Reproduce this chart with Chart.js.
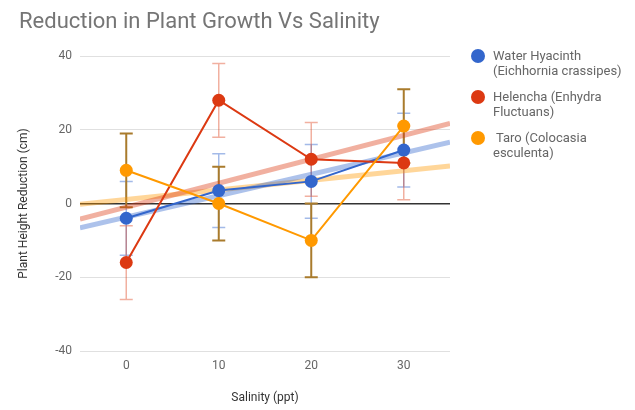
<!DOCTYPE html>
<html lang="en">
<head>
    <meta charset="UTF-8">
    <title>Reduction in Plant Growth Vs Salinity</title>
    <script src="https://cdn.jsdelivr.net/npm/chart.js"></script>
    <style>
        body { margin: 0; background: #fff; font-family: Roboto, Arial, sans-serif; }
        .wrap { position: relative; width: 635px; height: 410px; }
        .title { position: absolute; left: 19px; top: 8px; font-size: 22px; color: #757575; }
        .legend { position: absolute; left: 471px; top: 48px; }
        .item { position: relative; padding-left: 22px; font-size: 13px; line-height: 15px; color: #666; margin-bottom: 11px; white-space: pre; }
        .dot { position: absolute; left: 0; top: 1px; width: 14px; height: 14px; border-radius: 50%; }
    </style>
</head>
<body>
<div class="wrap">
    <canvas id="chart" width="635" height="410"></canvas>
    <div class="title">Reduction in Plant Growth Vs Salinity</div>
    <div class="legend" id="legend"></div>
</div>
<script>
    // valeurs
    const salinity = [0, 10, 20, 30];
    const xTicks = [0, 10, 20, 30];
    const yTicks = [-40, -20, 0, 20, 40];

    const hyacinth = [-4, 3.5, 6, 14.5];
    const helencha = [-16, 28, 12, 11];
    const taro = [9, 0, -10, 21];

    const hyacinthErr = [10, 10, 10, 10];
    const helenchaErr = [10, 10, 10, 10];
    const taroErr = [10, 10, 10, 10];

    const seriesNames = [
        ['Water Hyacinth', '(Eichhornia crassipes)'],
        ['Helencha (Enhydra', 'Fluctuans)'],
        [' Taro (Colocasia', 'esculenta)']
    ];
    const colors = ['#3366cc', '#dc3912', '#ff9900'];
    const trendColors = ['rgba(51,102,204,0.4)', 'rgba(220,57,18,0.4)', 'rgba(255,153,0,0.4)'];
    const errColors = ['rgba(51,102,204,0.45)', 'rgba(220,57,18,0.4)', '#a97b2c'];

    const values = [hyacinth, helencha, taro];
    const errors = [hyacinthErr, helenchaErr, taroErr];

    // droite de tendance (moindres carrés) sur toute la largeur de l'axe
    function trend(ys) {
        const n = salinity.length;
        const mx = salinity.reduce((a, b) => a + b, 0) / n;
        const my = ys.reduce((a, b) => a + b, 0) / n;
        let num = 0, den = 0;
        salinity.forEach((x, i) => { num += (x - mx) * (ys[i] - my); den += (x - mx) * (x - mx); });
        const slope = num / den;
        const b = my - slope * mx;
        return [-5, 35].map(x => ({ x: x, y: b + slope * x }));
    }

    const datasets = [];
    values.forEach((ys, k) => {
        datasets.push({
            label: seriesNames[k].join(' '),
            data: salinity.map((x, i) => ({ x: x, y: ys[i] })),
            borderColor: colors[k],
            backgroundColor: colors[k],
            borderWidth: 2,
            pointRadius: 6.5,
            pointHoverRadius: 6.5,
            pointBorderWidth: 0,
            order: 3 - k
        });
    });
    values.forEach((ys, k) => {
        datasets.push({
            label: 'trend ' + k,
            data: trend(ys),
            borderColor: trendColors[k],
            borderWidth: 5,
            pointRadius: 0,
            order: 10 + k
        });
    });

    // barres d'erreur
    const errorBars = {
        id: 'errorBars',
        beforeDatasetsDraw(chart) {
            const ctx = chart.ctx;
            const xs = chart.scales.x, ys = chart.scales.y;
            ctx.save();
            values.forEach((vals, k) => {
                ctx.strokeStyle = errColors[k];
                ctx.lineWidth = k === 2 ? 2 : 1.5;
                vals.forEach((v, i) => {
                    const px = xs.getPixelForValue(salinity[i]);
                    const top = ys.getPixelForValue(v + errors[k][i]);
                    const bot = ys.getPixelForValue(v - errors[k][i]);
                    ctx.beginPath();
                    ctx.moveTo(px, top); ctx.lineTo(px, bot);
                    ctx.moveTo(px - 6.5, top); ctx.lineTo(px + 6.5, top);
                    ctx.moveTo(px - 6.5, bot); ctx.lineTo(px + 6.5, bot);
                    ctx.stroke();
                });
            });
            ctx.restore();
        }
    };

    new Chart(document.getElementById('chart'), {
        type: 'line',
        data: { datasets: datasets },
        plugins: [errorBars],
        options: {
            responsive: false,
            animation: false,
            layout: { padding: { top: 56, right: 185, left: 0, bottom: 0 } },
            plugins: {
                legend: { display: false },
                title: { display: false },
                tooltip: { enabled: false }
            },
            scales: {
                x: {
                    type: 'linear',
                    min: -5,
                    max: 35,
                    afterBuildTicks: axis => { axis.ticks = xTicks.map(v => ({ value: v })); },
                    afterFit: axis => { axis.height = 59; },
                    grid: { display: false, drawTicks: false },
                    border: { display: false },
                    ticks: { color: '#666', padding: 8, font: { family: 'Roboto', size: 12 } },
                    title: {
                        display: true,
                        text: 'Salinity (ppt)',
                        color: '#333',
                        padding: { top: 0, bottom: 5 },
                        font: { family: 'Roboto', size: 12 }
                    }
                },
                y: {
                    min: -40,
                    max: 40,
                    afterBuildTicks: axis => { axis.ticks = yTicks.map(v => ({ value: v })); },
                    afterFit: axis => { axis.width = 80; },
                    grid: {
                        drawTicks: false,
                        color: c => c.tick && c.tick.value === 0 ? '#333' : '#e0e0e0',
                        lineWidth: c => c.tick && c.tick.value === 0 ? 1.5 : 1
                    },
                    border: { display: false },
                    ticks: { color: '#666', padding: 8, font: { family: 'Roboto', size: 12 } },
                    title: {
                        display: true,
                        text: 'Plant Height Reduction (cm)',
                        color: '#333',
                        padding: { top: 17, bottom: 0 },
                        font: { family: 'Roboto', size: 12 }
                    }
                }
            }
        }
    });

    // légende à droite
    const legend = document.getElementById('legend');
    seriesNames.forEach((lines, k) => {
        const item = document.createElement('div');
        item.className = 'item';
        item.innerHTML = '<span class="dot" style="background:' + colors[k] + '"></span>' + lines.join('\n');
        legend.appendChild(item);
    });
</script>
</body>
</html>
